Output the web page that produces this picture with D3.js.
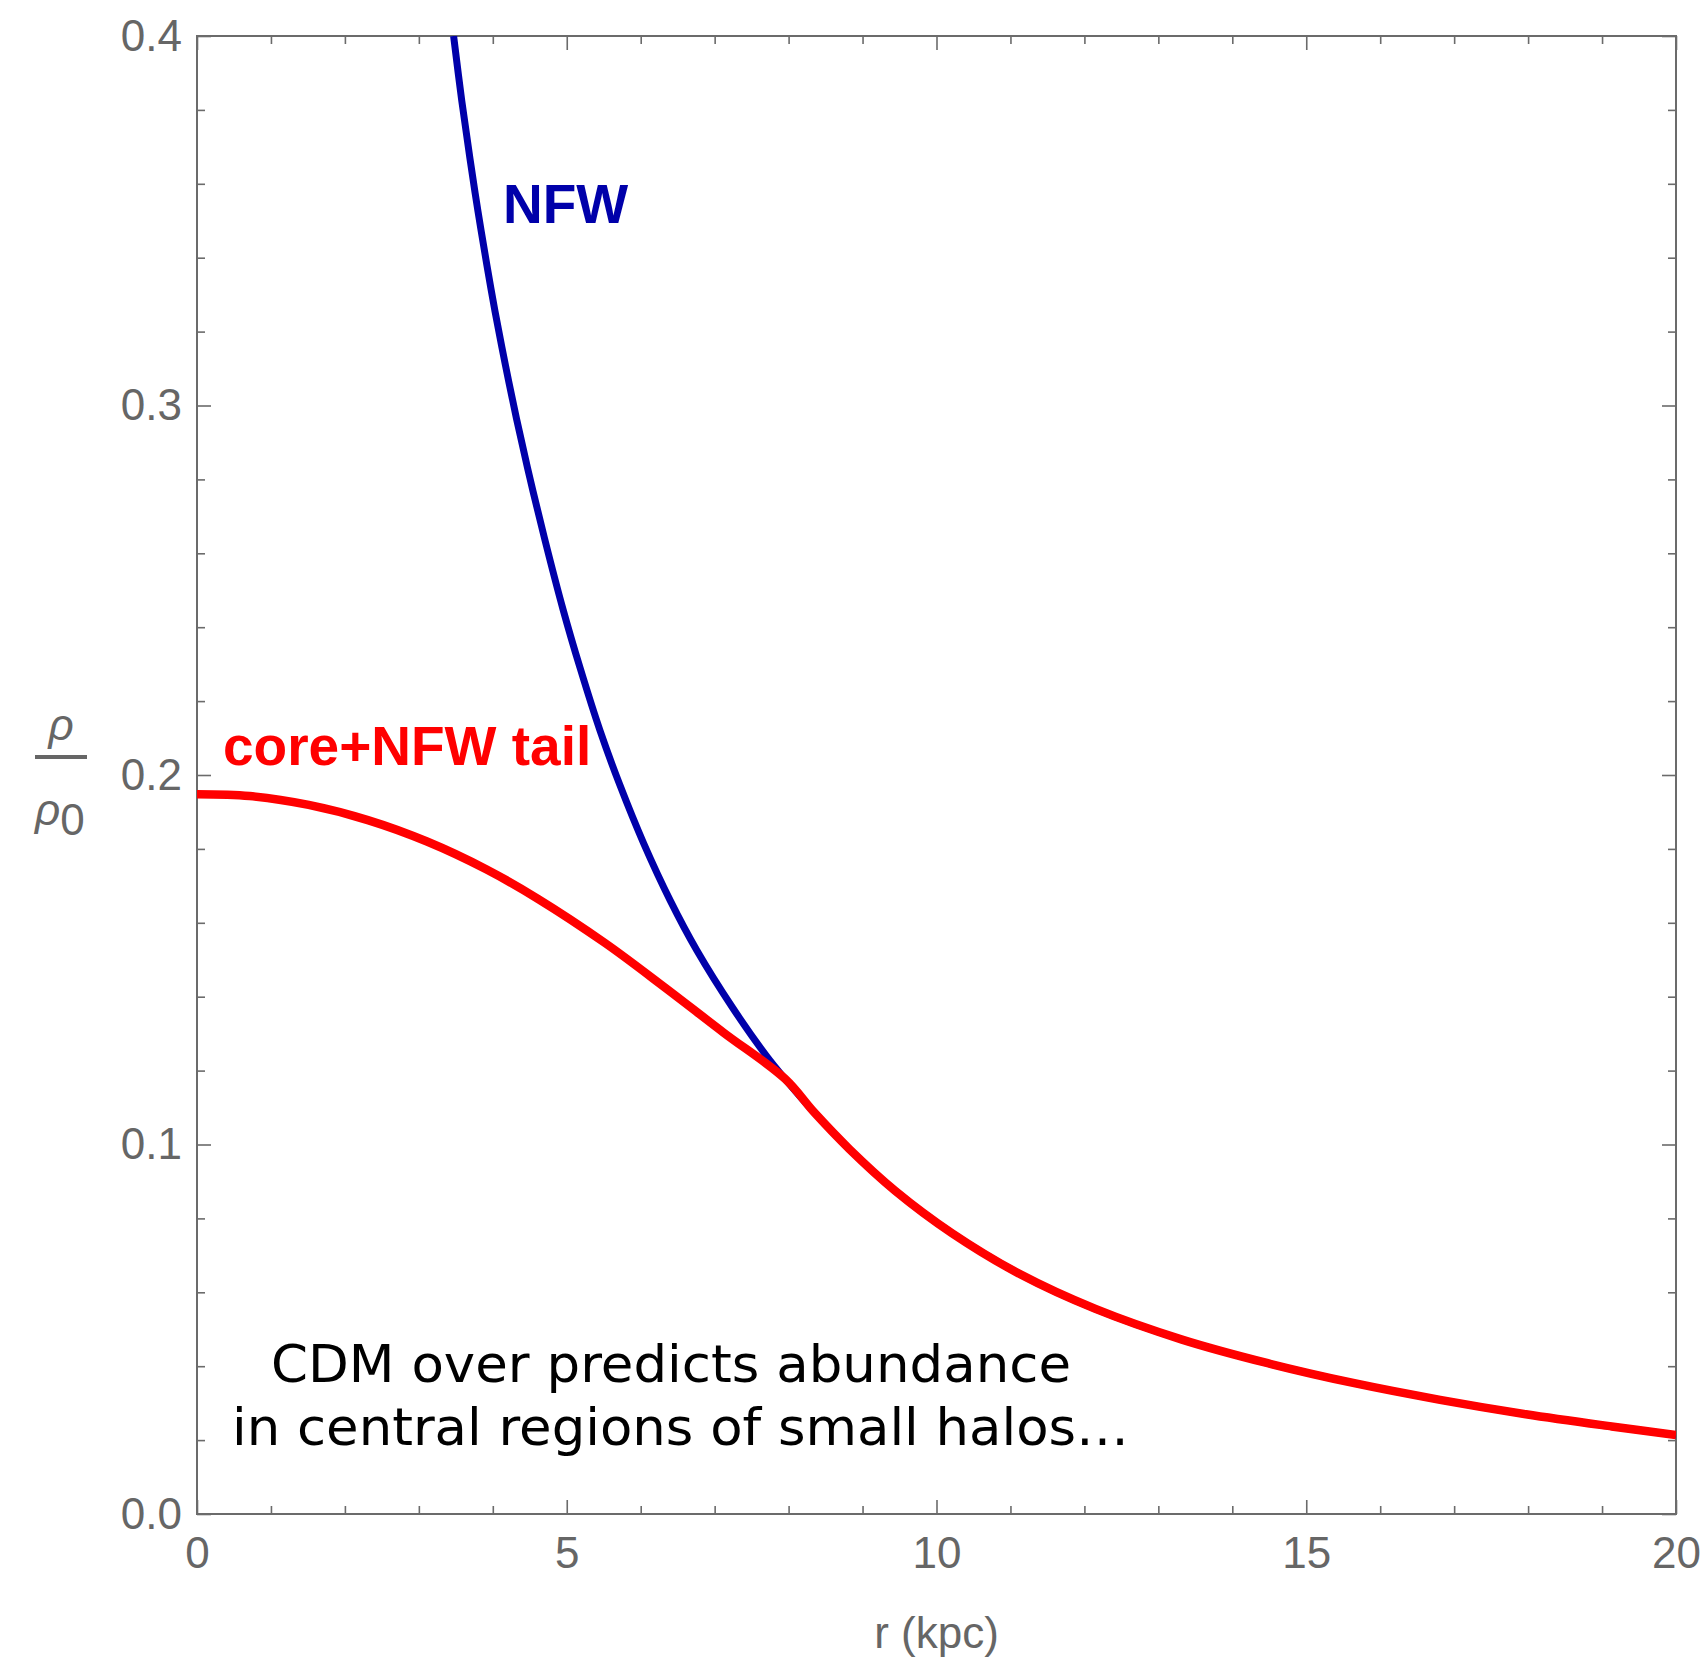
<!DOCTYPE html>
<html><head><meta charset="utf-8">
<script src="https://cdn.jsdelivr.net/npm/d3@7"></script>
<style>body{margin:0;background:#fff}</style>
</head><body>
<svg id="chart" width="1702" height="1663"></svg>
<script>
// ---- data ----
const nfwR = [3.47, 3.58, 3.69, 3.80, 3.92, 4.03, 4.17, 4.32, 4.50, 4.70, 4.95, 5.18, 5.45, 5.72, 6.04, 6.40, 6.76, 7.25, 7.70, 7.95];
const nfwV = [0.400, 0.3825, 0.367, 0.3525, 0.338, 0.3255, 0.311, 0.2965, 0.2805, 0.264, 0.2448, 0.2290, 0.212, 0.1972, 0.1815, 0.1660, 0.1525, 0.1368, 0.1240, 0.1178];
const coreR = [0, 0.71, 1.51, 2.31, 3.11, 3.91, 4.61, 5.52, 6.32, 7.12, 7.95];
const coreV = [0.1948, 0.1943, 0.1919, 0.1878, 0.1820, 0.1745, 0.1665, 0.1545, 0.1426, 0.1303, 0.1178];
const tailR = [8.35, 8.82, 9.44, 10.21, 11.14, 12.15, 13.32, 14.48, 15.65, 16.81, 17.97, 19.13, 20];
const tailV = [0.1086, 0.0988, 0.0875, 0.0760, 0.0648, 0.0555, 0.0472, 0.0408, 0.0354, 0.0309, 0.0270, 0.0237, 0.0214];

const xMajor = [0, 5, 10, 15, 20];
const xTickLabels = ["0", "5", "10", "15", "20"];
const xMinor = [1, 2, 3, 4, 6, 7, 8, 9, 11, 12, 13, 14, 16, 17, 18, 19];
const yMajor = [0, 0.1, 0.2, 0.3, 0.4];
const yTickLabels = ["0.0", "0.1", "0.2", "0.3", "0.4"];
const yMinor = [0.02, 0.04, 0.06, 0.08, 0.12, 0.14, 0.16, 0.18, 0.22, 0.24, 0.26, 0.28, 0.32, 0.34, 0.36, 0.38];

const xTitle = "r (kpc)";
const nfwLabel = "NFW";
const coreLabel = "core+NFW tail";
const note1 = "CDM over predicts abundance";
const note2 = "in central regions of small halos…";

// ---- layout ----
const M = {left: 197, top: 36, right: 1676, bottom: 1514};
const svg = d3.select("#chart");
const x = d3.scaleLinear().domain([0, 20]).range([M.left, M.right]);
const y = d3.scaleLinear().domain([0, 0.4]).range([M.bottom, M.top]);
const axisCol = "#6b6b6b";
const font = "'Liberation Sans', Arial, sans-serif";

svg.append("defs").append("clipPath").attr("id", "clip")
  .append("rect").attr("x", M.left).attr("y", M.top)
  .attr("width", M.right - M.left).attr("height", M.bottom - M.top);

function styleAxis(g) {
  g.select(".domain").remove();
  g.selectAll(".tick line").attr("stroke", axisCol).attr("stroke-width", 1.6);
  g.selectAll(".tick text").attr("fill", "#666").attr("font-size", 44).attr("font-family", font);
}
// major ticks with labels
svg.append("g").attr("transform", `translate(0,${M.bottom})`)
  .call(d3.axisBottom(x).tickValues(xMajor).tickSize(-14).tickPadding(23).tickFormat((d, i) => xTickLabels[i]))
  .call(styleAxis);
svg.append("g").attr("transform", `translate(${M.left},0)`)
  .call(d3.axisLeft(y).tickValues(yMajor).tickSize(-14).tickPadding(15).tickFormat((d, i) => yTickLabels[i]))
  .call(styleAxis);
svg.append("g").attr("transform", `translate(0,${M.top})`)
  .call(d3.axisTop(x).tickValues(xMajor).tickSize(-14).tickFormat(""))
  .call(styleAxis);
svg.append("g").attr("transform", `translate(${M.right},0)`)
  .call(d3.axisRight(y).tickValues(yMajor).tickSize(-14).tickFormat(""))
  .call(styleAxis);
// minor ticks
svg.append("g").attr("transform", `translate(0,${M.bottom})`)
  .call(d3.axisBottom(x).tickValues(xMinor).tickSize(-8).tickFormat("")).call(styleAxis);
svg.append("g").attr("transform", `translate(0,${M.top})`)
  .call(d3.axisTop(x).tickValues(xMinor).tickSize(-8).tickFormat("")).call(styleAxis);
svg.append("g").attr("transform", `translate(${M.left},0)`)
  .call(d3.axisLeft(y).tickValues(yMinor).tickSize(-8).tickFormat("")).call(styleAxis);
svg.append("g").attr("transform", `translate(${M.right},0)`)
  .call(d3.axisRight(y).tickValues(yMinor).tickSize(-8).tickFormat("")).call(styleAxis);

// frame
svg.append("rect").attr("x", M.left).attr("y", M.top)
  .attr("width", M.right - M.left).attr("height", M.bottom - M.top)
  .attr("fill", "none").attr("stroke", axisCol).attr("stroke-width", 2);

// curves
const line = d3.line().x(d => x(d[0])).y(d => y(d[1])).curve(d3.curveCatmullRom.alpha(0.5));
const tail = tailR.map((r, i) => [r, tailV[i]]);
const nfw = nfwR.map((r, i) => [r, nfwV[i]]).concat(tail);
const core = coreR.map((r, i) => [r, coreV[i]]).concat(tail);
const plot = svg.append("g").attr("clip-path", "url(#clip)");
plot.append("path").datum(nfw).attr("d", line)
  .attr("fill", "none").attr("stroke", "#0000aa").attr("stroke-width", 7);
plot.append("path").datum(core).attr("d", line)
  .attr("fill", "none").attr("stroke", "#ff0000").attr("stroke-width", 8.5);

// labels on curves
svg.append("text").attr("x", 503).attr("y", 223).text(nfwLabel)
  .attr("font-family", font).attr("font-weight", "bold").attr("font-size", 55).attr("fill", "#0000aa");
svg.append("text").attr("x", 223).attr("y", 765).text(coreLabel)
  .attr("font-family", font).attr("font-weight", "bold").attr("font-size", 55).attr("fill", "#ff0000");

// annotation
svg.append("text").attr("x", 271).attr("y", 1382).text(note1)
  .attr("font-family", "'DejaVu Sans', Verdana, sans-serif").attr("font-size", 51).attr("fill", "#000")
  .attr("textLength", 800).attr("lengthAdjust", "spacingAndGlyphs");
svg.append("text").attr("x", 232).attr("y", 1445).text(note2)
  .attr("font-family", "'DejaVu Sans', Verdana, sans-serif").attr("font-size", 51).attr("fill", "#000")
  .attr("textLength", 897).attr("lengthAdjust", "spacingAndGlyphs");

// axis titles
svg.append("text").attr("x", (M.left + M.right) / 2).attr("y", 1648).attr("text-anchor", "middle")
  .text(xTitle).attr("font-family", font).attr("font-size", 44).attr("fill", "#666");
const yl = svg.append("g").attr("fill", "#666").attr("font-family", font).attr("font-size", 44);
yl.append("text").attr("x", 61).attr("y", 740).attr("text-anchor", "middle").attr("font-style", "italic").text("ρ");
yl.append("line").attr("x1", 35).attr("x2", 87).attr("y1", 757).attr("y2", 757)
  .attr("stroke", "#666").attr("stroke-width", 4);
const den = yl.append("text").attr("x", 35).attr("y", 825);
den.append("tspan").attr("font-style", "italic").text("ρ");
den.append("tspan").attr("dy", 10).text("0");
</script>
</body></html>
